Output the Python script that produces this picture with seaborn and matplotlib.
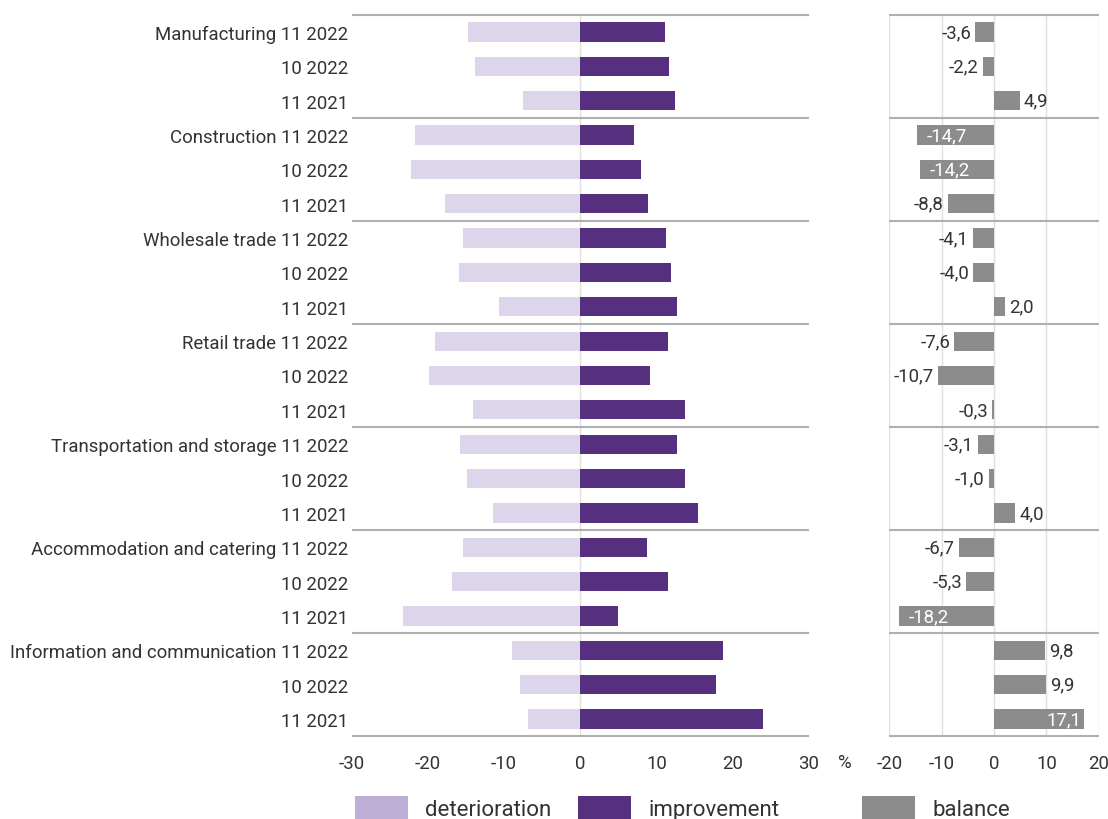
import matplotlib
matplotlib.use("Agg")
import matplotlib.pyplot as plt
import seaborn as sns
import pandas as pd
from matplotlib.patches import Patch

sectors = ["Manufacturing", "Construction", "Wholesale trade", "Retail trade",
           "Transportation and storage", "Accommodation and catering",
           "Information and communication"]
periods = ["11 2022", "10 2022", "11 2021"]

deterioration = [14.7, 13.8, 7.5, 21.7, 22.2, 17.7, 15.4, 15.9, 10.7,
                 19.1, 19.9, 14.1, 15.8, 14.8, 11.4, 15.4, 16.8, 23.2,
                 8.9, 7.9, 6.9]
improvement = [11.1, 11.6, 12.4, 7.0, 8.0, 8.9, 11.3, 11.9, 12.7,
               11.5, 9.2, 13.8, 12.7, 13.8, 15.4, 8.7, 11.5, 5.0,
               18.7, 17.8, 24.0]
balance = [-3.6, -2.2, 4.9, -14.7, -14.2, -8.8, -4.1, -4.0, 2.0,
           -7.6, -10.7, -0.3, -3.1, -1.0, 4.0, -6.7, -5.3, -18.2,
           9.8, 9.9, 17.1]

left_ticks = [-30, -20, -10, 0, 10, 20, 30]
right_ticks = [-20, -10, 0, 10, 20]

C_DET = "#ddd6ea"
C_DET_LEG = "#bdafd6"
C_IMP = "#56307f"
C_BAL = "#8c8c8c"
C_TXT = "#333333"
C_GRID = "#e0e0e0"
C_SEP = "#b0b0b0"

sns.set_style("white")
plt.rcParams["font.family"] = ["Roboto", "DejaVu Sans"]
plt.rcParams["axes.unicode_minus"] = False
plt.rcParams["text.color"] = C_TXT
plt.rcParams["xtick.color"] = C_TXT
plt.rcParams["ytick.color"] = C_TXT
FS = 13.4

rows = [f"{s} {p}" for s in sectors for p in periods]
row_labels = [f"{s} {p}" if j == 0 else p
              for s in sectors for j, p in enumerate(periods)]

df_left = pd.DataFrame({
    "row": rows * 2,
    "value": [-v for v in deterioration] + improvement,
    "kind": ["deterioration"] * len(rows) + ["improvement"] * len(rows),
})
df_right = pd.DataFrame({"row": rows, "balance": balance})

fig = plt.figure(figsize=(11.08, 8.2), dpi=100)
W, H = 1108, 820
top, bottom = 15.7, 737.3
ax1 = fig.add_axes([351.5 / W, 1 - bottom / H, (809 - 351.5) / W, (bottom - top) / H])
ax2 = fig.add_axes([889.4 / W, 1 - bottom / H, (1098.7 - 889.4) / W, (bottom - top) / H])

sns.barplot(data=df_left, y="row", x="value", hue="kind", order=rows,
            palette={"deterioration": C_DET, "improvement": C_IMP},
            dodge=False, width=0.56, saturation=1, errorbar=None,
            legend=False, orient="h", ax=ax1, zorder=3, linewidth=0)
sns.barplot(data=df_right, y="row", x="balance", order=rows, color=C_BAL,
            width=0.56, saturation=1, errorbar=None, orient="h", ax=ax2,
            zorder=3, linewidth=0)

n = len(rows)
seps = [i * 3 - 0.5 for i in range(len(sectors) + 1)]
for ax, lim in ((ax1, (-30, 30)), (ax2, (-20, 20))):
    ax.set_xlim(*lim)
    ax.set_ylim(n - 0.5, -0.5)
    for s in ax.spines.values():
        s.set_visible(False)
    ax.hlines(seps, lim[0], lim[1], color=C_SEP, lw=1.5, zorder=4, clip_on=False)
    ax.set_xlabel("")
    ax.set_ylabel("")
    ax.tick_params(axis="x", length=0, pad=13, labelsize=FS)

ax1.axvline(0, color=C_GRID, lw=1, zorder=1)
for t in right_ticks:
    ax2.axvline(t, color=C_GRID, lw=1, zorder=1)

ax1.set_xticks(left_ticks, [str(t) for t in left_ticks])
ax2.set_xticks(right_ticks, [str(t) for t in right_ticks])
ax1.set_yticks(range(n), row_labels)
ax1.tick_params(axis="y", length=0, pad=2.5, labelsize=FS)
ax2.set_yticks([])

# value labels for the balance bars
for i, v in enumerate(balance):
    txt = f"{v:.1f}".replace(".", ",")
    if abs(v) > 12:
        if v < 0:
            ax2.annotate(txt, (v, i), xytext=(7, 0), textcoords="offset points",
                         ha="left", va="center", color="white", fontsize=FS, zorder=5)
        else:
            ax2.annotate(txt, (v, i), xytext=(-1.5, 0), textcoords="offset points",
                         ha="right", va="center", color="white", fontsize=FS, zorder=5)
    else:
        if v < 0:
            ax2.annotate(txt, (v, i), xytext=(-3, 0), textcoords="offset points",
                         ha="right", va="center", color=C_TXT, fontsize=FS, zorder=5)
        else:
            ax2.annotate(txt, (v, i), xytext=(3, 0), textcoords="offset points",
                         ha="left", va="center", color=C_TXT, fontsize=FS, zorder=5)

fig.text(845 / W, 1 - 763 / H, "%", ha="center", va="center", fontsize=FS)

# legend entries placed individually along the bottom
entries = [("deterioration", C_DET_LEG, 355), ("improvement", C_IMP, 578), ("balance", C_BAL, 862)]
for label, col, x0 in entries:
    fig.legend(handles=[Patch(facecolor=col, edgecolor="none", label=label)],
               loc="center left", bbox_to_anchor=(x0 / W, 1 - 809 / H),
               frameon=False, fontsize=16, handlelength=2.4, handleheight=1.25,
               handletextpad=0.75, borderpad=0, borderaxespad=0)

fig.savefig("out.png", dpi=100)
